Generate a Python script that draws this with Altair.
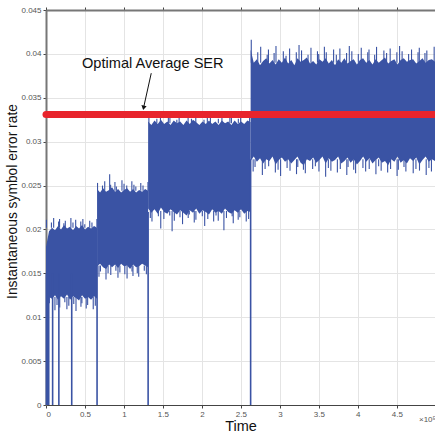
import altair as alt
import pandas as pd

# ---- data (x in units of 1e5, y values in units of 1e-3 unless stated) ----
seg_bounds = [(0.0, 0.655), (0.655, 1.31), (1.31, 2.625), (2.625, 4.99)]
seg_top_base = [20.2, 24.4, 32.1, 39.0]
seg_bot_base = [12.3, 15.9, 22.1, 28.0]

# dense core of the noisy signal (upper / lower edge)
seg1_top = [18.0, 19.8, 20.2, 19.9, 20.4, 20.0, 20.5, 20.1, 20.3, 19.9, 20.4, 20.1, 20.5, 20.0, 20.3, 20.1, 20.4, 20.2]
seg1_bot = [13.5, 12.3, 12.1, 12.5, 12.0, 12.4, 12.1, 12.6, 12.0, 12.4, 12.2, 11.9, 12.5, 12.1, 12.3, 12.0, 12.4, 12.1]
seg2_top = [24.6, 24.2, 24.7, 24.3, 24.5, 24.8, 24.3, 24.6, 24.2, 24.5, 24.7, 24.3, 24.6, 24.2, 24.5, 24.3, 24.6, 24.4]
seg2_bot = [15.8, 16.1, 15.7, 15.5, 16.0, 15.7, 16.0, 15.6, 16.1, 15.8, 15.9, 15.5, 16.0, 15.7, 15.8, 16.1, 15.9, 15.7]
seg3_top = [32.3, 31.9, 32.4, 32.0, 32.5, 32.0, 32.3, 31.9, 32.4, 32.1, 32.3, 31.9, 32.4, 32.0, 32.5, 32.2, 31.9,
            32.3, 32.0, 32.4, 32.0, 32.3, 31.9, 32.4, 32.1, 32.3, 31.9, 32.4, 32.0, 32.3, 32.0, 32.4, 32.2]
seg3_bot = [22.4, 21.9, 22.3, 21.8, 22.5, 22.0, 21.8, 22.3, 22.0, 21.7, 22.2, 21.9, 21.6, 22.2, 21.9, 22.4, 21.8,
            22.2, 22.0, 21.7, 22.3, 21.9, 22.1, 21.8, 22.4, 22.0, 21.8, 22.2, 21.9, 22.3, 21.8, 22.1, 22.0]
seg4_top = [40.5, 39.0, 39.4, 38.7, 39.2, 39.5, 38.9, 39.3, 38.8, 39.4, 39.0, 39.6, 38.9, 39.3, 38.7, 39.5, 39.1,
            39.3, 39.6, 38.9, 39.2, 38.8, 39.4, 39.1, 39.5, 38.9, 39.3, 38.7, 39.4, 39.0, 39.5, 38.9, 39.2, 39.4,
            38.8, 39.3, 39.5, 39.0, 39.3, 38.8, 39.4, 39.0, 39.3, 39.6, 38.9, 39.2, 39.4, 38.8, 39.3, 39.5, 39.1,
            39.3, 39.4, 38.9, 39.2, 39.5, 39.0, 39.3, 39.4, 39.1]
seg4_bot = [27.8, 28.3, 27.7, 28.1, 27.5, 28.0, 27.8, 28.3, 27.4, 27.9, 28.2, 27.7, 28.0, 27.5, 27.9, 28.3, 27.6,
            27.3, 28.0, 27.8, 28.2, 27.6, 27.9, 28.3, 27.5, 28.1, 27.7, 27.9, 28.3, 27.5, 27.8, 28.2, 27.6, 28.0,
            27.4, 27.8, 28.3, 27.7, 28.1, 27.5, 27.9, 28.2, 27.6, 27.8, 27.3, 28.0, 27.7, 28.3, 27.6, 27.9, 27.5,
            28.1, 27.8, 28.2, 27.4, 27.9, 28.3, 27.7, 28.0, 27.8]

# isolated noise spikes beyond the dense core
spk1_top = [21.1, 20.8, 21.3, 20.9, 21.2, 20.7, 21.0, 21.3, 20.8, 21.1, 20.9, 21.2, 20.6, 21.0, 20.8, 21.2]
spk1_bot = [11.0, 11.6, 10.8, 11.4, 11.1, 11.7, 10.9, 11.3, 11.5, 10.7, 11.2, 11.6, 11.0, 11.4, 10.9, 11.3]
spk2_top = [25.3, 25.0, 25.5, 26.3, 25.1, 25.4, 24.9, 25.6, 25.2, 25.0, 25.5, 25.1, 24.9, 25.3, 25.0, 25.4]
spk2_bot = [14.6, 15.2, 14.3, 15.0, 14.8, 15.3, 14.5, 15.1, 14.9, 14.4, 15.2, 14.7, 15.0, 14.6, 15.3, 14.9]
spk3_top = [32.8, 32.6, 32.9, 32.7, 32.8, 32.5, 32.9, 32.7, 32.6, 32.8, 32.5, 32.9, 32.7, 32.6, 32.8, 32.7,
            32.9, 32.6, 32.8, 32.7]
spk3_bot = [21.3, 20.9, 21.5, 20.1, 21.2, 21.6, 19.8, 21.0, 21.4, 20.6, 21.3, 21.7, 20.8, 21.1, 21.5, 20.4,
            21.2, 20.9, 21.6, 21.0, 19.9, 21.3, 21.5, 20.7, 21.1, 21.4, 20.9, 21.2]
spk4_top = [41.6, 40.2, 40.8, 39.9, 40.5, 40.1, 40.9, 40.3, 39.8, 40.6, 40.2, 41.0, 40.4, 39.9, 40.7, 40.3,
            40.0, 40.8, 40.2, 40.5, 39.9, 40.6, 40.1, 40.9, 40.3, 40.0, 40.7, 40.2, 40.5, 39.9, 40.8, 40.4,
            40.1, 40.6, 40.2, 40.9, 40.3, 40.0, 40.5, 40.2, 40.7, 40.1, 40.4, 40.8]
spk4_bot = [26.6, 27.1, 26.2, 26.9, 27.2, 26.5, 26.8, 26.1, 27.0, 26.7, 26.3, 27.1, 26.8, 26.4, 26.9, 27.2,
            26.6, 26.0, 27.0, 26.7, 26.5, 26.9, 26.2, 27.1, 26.8, 26.4, 27.0, 26.6, 26.9, 26.3, 27.2, 26.7,
            26.5, 26.9, 26.1, 26.8, 27.1, 26.6, 26.4, 26.9, 26.7, 26.2, 27.0, 26.6]
# where each spike sits inside its slot (fraction of the slot width)
spike_slot_pos = [0.15, 0.7, 0.4, 0.95, 0.25, 0.6, 0.05, 0.8, 0.45, 0.3, 0.9, 0.55]

# drops of the signal to zero (resets)
drop_x = [0.005, 0.02, 0.035, 0.085, 0.165, 0.33, 0.655, 1.31, 2.625]
drop_top = [15.0, 15.0, 15.0, 15.0, 15.0, 15.0, 16.0, 22.0, 28.0]

optimal_ser = 0.0331
x_ticks = [0, 0.5, 1, 1.5, 2, 2.5, 3, 3.5, 4, 4.5]
y_ticks = [0, 0.005, 0.01, 0.015, 0.02, 0.025, 0.03, 0.035, 0.04, 0.045]

# ---- build tables ----
cores_top = [seg1_top, seg2_top, seg3_top, seg4_top]
cores_bot = [seg1_bot, seg2_bot, seg3_bot, seg4_bot]
spikes_top = [spk1_top, spk2_top, spk3_top, spk4_top]
spikes_bot = [spk1_bot, spk2_bot, spk3_bot, spk4_bot]

rows = []
for k, (x0, x1) in enumerate(seg_bounds):
    tops, bots = cores_top[k], cores_bot[k]
    n = len(tops)
    for i, (t, b) in enumerate(zip(tops, bots)):
        rows.append({"seg": k, "x": x0 + (x1 - x0) * i / (n - 1), "top": t / 1000, "bot": b / 1000})
band = pd.DataFrame(rows)

srows = []
for k, (x0, x1) in enumerate(seg_bounds):
    for vals, base, shift in ((spikes_top[k], seg_top_base[k], 0), (spikes_bot[k], seg_bot_base[k], 5)):
        n = len(vals)
        for i, v in enumerate(vals):
            f = spike_slot_pos[(i + shift) % len(spike_slot_pos)]
            srows.append({"x": x0 + (x1 - x0) * (i + f) / n, "y": v / 1000, "y2": base / 1000})
spikes = pd.DataFrame(srows)

drops = pd.DataFrame({"x": drop_x, "y": [0.0] * len(drop_x), "y2": [v / 1000 for v in drop_top]})
red = pd.DataFrame({"x": [0.0, 4.99], "y": [optimal_ser, optimal_ser]})

BLUE = "#3A53A4"
RED = "#E8242C"
FONT = "Liberation Sans"

xscale = alt.Scale(domain=[0, 4.99], nice=False, zero=False)
yscale = alt.Scale(domain=[0, 0.045], nice=False)

xaxis = alt.Axis(values=x_ticks, labelExpr="toString(datum.value)", title="Time",
                 titleFontSize=14.5, titleFont=FONT, titleFontWeight="normal", titleColor="#111",
                 titleBaseline="alphabetic", titleY=25,
                 labelFont=FONT, labelFontSize=8, labelColor="#555",
                 labelPadding=2, tickSize=3, tickColor="#444", domainColor="#444", domainWidth=1.2,
                 gridColor="#E4E4E4", gridWidth=1)
yaxis = alt.Axis(values=y_ticks, format="~f", title="Instantaneous symbol error rate",
                 titleFontSize=13.8, titleFont=FONT, titleFontWeight="normal", titleColor="#111",
                 titlePadding=1, titleY=191,
                 labelFont=FONT, labelFontSize=8, labelColor="#555",
                 labelPadding=2, tickSize=3, tickColor="#444", domainColor="#777", domainWidth=2,
                 gridColor="#E4E4E4", gridWidth=1)

area = alt.Chart(band).mark_area(color=BLUE, opacity=1, interpolate="linear").encode(
    x=alt.X("x:Q", scale=xscale, axis=xaxis),
    y=alt.Y("top:Q", scale=yscale, axis=yaxis),
    y2="bot:Q",
    detail="seg:N",
)

spike_rules = alt.Chart(spikes).mark_rule(color=BLUE, strokeWidth=1.1).encode(
    x=alt.X("x:Q", axis=None), y="y:Q", y2="y2:Q"
)

drop_rules = alt.Chart(drops).mark_rule(color=BLUE, strokeWidth=1.6).encode(
    x=alt.X("x:Q", axis=None), y="y:Q", y2="y2:Q"
)

red_line = alt.Chart(red).mark_line(color=RED, strokeWidth=7, strokeCap="round").encode(
    x=alt.X("x:Q", axis=alt.Axis(orient="top", labels=False, title=None, tickSize=3,
                                  tickColor="#444", domainColor="#777", domainWidth=2,
                                  values=x_ticks, grid=False)),
    y="y:Q",
)

ann_text = alt.Chart(pd.DataFrame({"x": [1.37], "y": [0.0384], "t": ["Optimal Average SER"]})).mark_text(
    font=FONT, fontSize=14.6, color="#111", baseline="alphabetic", align="center"
).encode(x=alt.X("x:Q", axis=None), y="y:Q", text="t:N")

arrow_df = pd.DataFrame({"x": [1.35], "y": [0.0378], "x2": [1.255], "y2": [0.0340]})
arrow_line = alt.Chart(arrow_df).mark_rule(color="#111", strokeWidth=1).encode(
    x=alt.X("x:Q", axis=None), y="y:Q", x2="x2:Q", y2="y2:Q"
)
arrow_head = alt.Chart(pd.DataFrame({"x": [1.252], "y": [0.03385]})).mark_point(
    shape="triangle-down", filled=True, color="#111", size=28, angle=11, opacity=1
).encode(x=alt.X("x:Q", axis=None), y="y:Q")

exp_label = alt.Chart(pd.DataFrame({"t": ["×10⁵"]})).mark_text(
    font=FONT, fontSize=8, color="#555", align="left", baseline="middle"
).encode(x=alt.value(373), y=alt.value(410), text="t:N")

chart = alt.layer(area, spike_rules, drop_rules, red_line, ann_text, arrow_line, arrow_head,
                  exp_label).resolve_axis(
    x="independent"
).properties(
    width=389, height=395,
    autosize=alt.AutoSizeParams(type="none"),
    padding={"left": 46, "top": 10, "right": 0, "bottom": 27},
).configure_view(stroke=None).configure(background="white")

chart.save("out.html", embed_options={"renderer": "svg", "actions": False})
